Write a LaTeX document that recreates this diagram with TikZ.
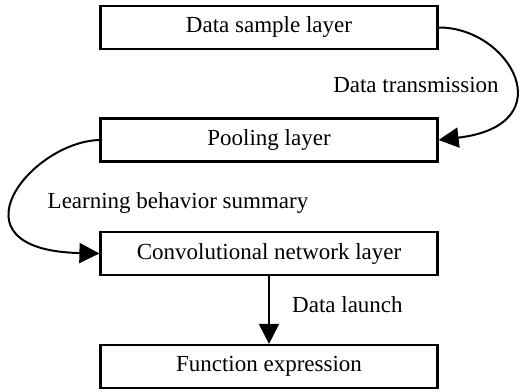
\documentclass[tikz,border=0pt]{standalone}
\usepackage{fontspec}
\setmainfont{Liberation Serif}
\usetikzlibrary{arrows.meta}
\begin{document}
\begin{tikzpicture}[x=1pt,y=-1pt,
  box/.style={draw=black,line width=2.2pt,minimum width=337pt,minimum height=43pt,inner sep=0pt,font=\fontsize{23}{26}\selectfont},
  lbl/.style={font=\fontsize{23}{26}\selectfont,inner sep=0pt},
  conn/.style={line width=2pt,-{Triangle[length=20pt,width=20pt]}}]
\useasboundingbox (0,0) rectangle (526,391);
\node[box] (a) at (269,27.5) {Data sample layer};
\node[box] (b) at (269,140) {Pooling layer};
\node[box] (c) at (269,253.5) {Convolutional network layer};
\node[box] (d) at (269,366.5) {Function expression};
\draw[conn] (a.east) .. controls (510,27) and (565,125) .. (b.east);
\draw[conn] (b.west) .. controls (30,142) and (-55,250) .. (c.west);
\draw[conn] (c.south) -- (d.north);
\node[lbl] (t1) at (416,85) {Data transmission};
\node[lbl] (t2) at (178,203) {Learning behavior summary};
\node[lbl,anchor=west] (t3) at (292,305) {Data launch};
\end{tikzpicture}
\end{document}
